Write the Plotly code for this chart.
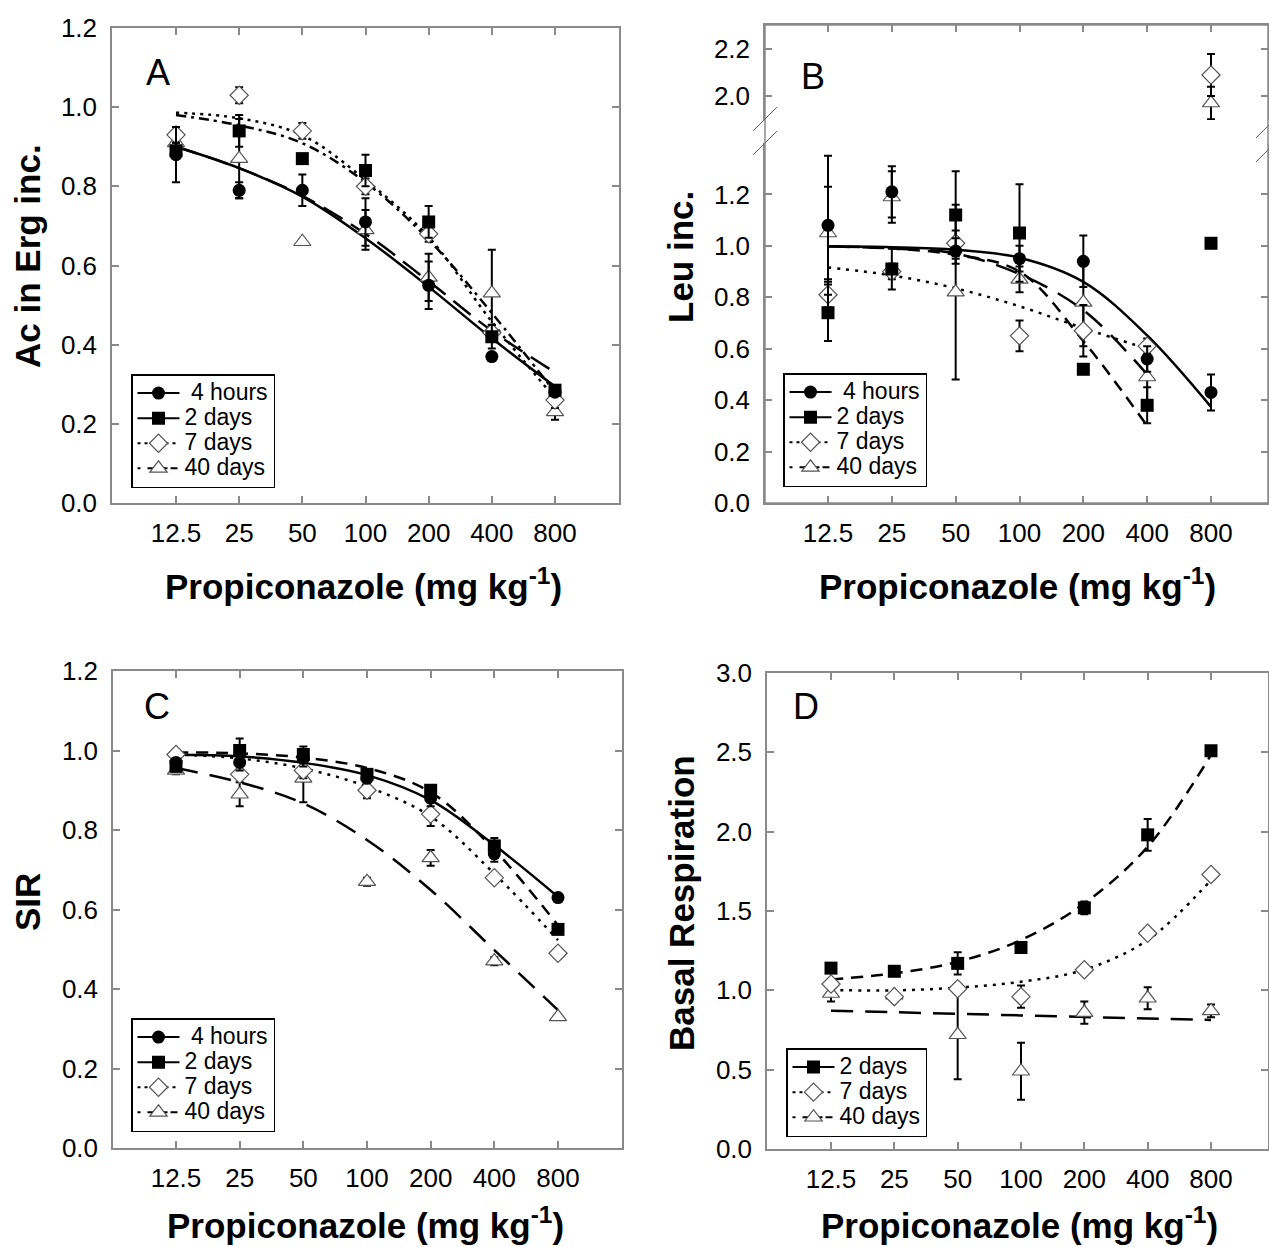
import numpy as np
import plotly.graph_objects as go

W, H = 1269, 1247
FONT = "Liberation Sans, Arial, sans-serif"
GRAY = "#8a8a8a"

# ---------------- data ----------------
doses = [12.5, 25, 50, 100, 200, 400, 800]
dose_labels = ["12.5", "25", "50", "100", "200", "400", "800"]
names = [" 4 hours", "2 days", "7 days", "40 days"]

# Panel A: Ac in Erg inc.
A_4h = [0.88, 0.79, 0.79, 0.71, 0.55, 0.37, 0.28]
A_4h_err = [0.07, 0.02, 0.04, 0.06, 0.06, 0.0, 0.01]
A_2d = [0.89, 0.94, 0.87, 0.84, 0.71, 0.42, 0.285]
A_2d_err = [0.02, 0.04, 0.0, 0.04, 0.04, 0.03, 0.01]
A_7d = [0.93, 1.03, 0.94, 0.80, 0.68, 0.43, 0.26]
A_7d_err = [0.02, 0.02, 0.02, 0.02, 0.02, 0.02, 0.02]
A_40d = [0.91, 0.87, 0.66, 0.69, 0.57, 0.53, 0.23]
A_40d_err = [0.02, 0.10, 0.005, 0.05, 0.06, 0.11, 0.02]
A_fit_4h = [0.90, 0.846, 0.774, 0.669, 0.546, 0.416, 0.294]
A_fit_2d = [0.98, 0.954, 0.909, 0.81, 0.665, 0.48, 0.28]
A_fit_7d = [0.986, 0.972, 0.929, 0.816, 0.672, 0.458, 0.265]
A_fit_40d = [0.90, 0.846, 0.776, 0.68, 0.56, 0.435, 0.33]

# Panel B: Leu inc. (broken axis)
B_4h = [1.08, 1.21, 0.98, 0.95, 0.94, 0.56, 0.43]
B_4h_err = [0.27, 0.10, 0.05, 0.05, 0.10, 0.05, 0.07]
B_2d = [0.74, 0.91, 1.12, 1.05, 0.52, 0.38, 1.01]
B_2d_err = [0.11, 0.08, 0.17, 0.19, 0.0, 0.07, 0.0]
B_7d = [0.81, 0.90, 1.01, 0.65, 0.67, 0.61, 2.09]
B_7d_err = [0.05, 0.03, 0.05, 0.06, 0.10, 0.03, 0.09]
B_40d = [1.05, 1.19, 0.82, 0.87, 0.78, 0.49, 1.97]
B_40d_err = [0.18, 0.10, 0.34, 0.05, 0.17, 0.10, 0.07]
B_fit_4h = [0.998, 0.995, 0.985, 0.954, 0.86, 0.652, 0.374]
B_fit_2d = [0.998, 0.99, 0.965, 0.90, 0.63, 0.30]
B_fit_7d = [0.916, 0.885, 0.835, 0.765, 0.68, 0.60]
B_fit_40d = [0.998, 0.99, 0.97, 0.89, 0.75, 0.50]

# Panel C: SIR
C_4h = [0.97, 0.97, 0.98, 0.93, 0.88, 0.74, 0.63]
C_4h_err = [0.01, 0.02, 0.02, 0.01, 0.02, 0.02, 0.0]
C_2d = [0.96, 1.00, 0.99, 0.94, 0.90, 0.76, 0.55]
C_2d_err = [0.01, 0.03, 0.02, 0.01, 0.01, 0.02, 0.0]
C_7d = [0.99, 0.94, 0.95, 0.90, 0.84, 0.68, 0.49]
C_7d_err = [0.01, 0.01, 0.02, 0.02, 0.03, 0.01, 0.01]
C_40d = [0.95, 0.89, 0.93, 0.67, 0.73, 0.47, 0.33]
C_40d_err = [0.01, 0.03, 0.06, 0.01, 0.02, 0.01, 0.0]
C_fit_4h = [0.989, 0.985, 0.969, 0.938, 0.875, 0.762, 0.632]
C_fit_2d = [0.995, 0.993, 0.982, 0.956, 0.895, 0.75, 0.56]
C_fit_7d = [0.99, 0.98, 0.955, 0.909, 0.834, 0.69, 0.523]
C_fit_40d = [0.956, 0.92, 0.867, 0.775, 0.649, 0.498, 0.347]

# Panel D: Basal Respiration
D_2d = [1.14, 1.12, 1.17, 1.27, 1.52, 1.98, 2.51]
D_2d_err = [0.0, 0.02, 0.07, 0.02, 0.04, 0.10, 0.0]
D_7d = [1.04, 0.96, 1.01, 0.96, 1.13, 1.36, 1.73]
D_7d_err = [0.02, 0.02, 0.03, 0.07, 0.02, 0.03, 0.02]
D_40d = [0.98, 0.97, 0.72, 0.49, 0.86, 0.95, 0.87]
D_40d_err = [0.05, 0.02, 0.28, 0.18, 0.07, 0.07, 0.04]
D_fit_2d = [1.069, 1.107, 1.18, 1.317, 1.548, 1.905, 2.483]
D_fit_7d = [1.002, 1.0, 1.017, 1.054, 1.13, 1.317, 1.695]
D_fit_40d = [0.872, 0.862, 0.852, 0.842, 0.832, 0.822, 0.813]

# ---------------- styles ----------------
MARK = {
    0: dict(symbol="circle", size=13, color="black", line=dict(width=0)),
    1: dict(symbol="square", size=13, color="black", line=dict(width=0)),
    2: dict(symbol="diamond", size=14, color="white", line=dict(width=1.2, color="#555")),
    3: dict(symbol="triangle-up", size=15, color="white", line=dict(width=1.2, color="#555")),
}
LEG_DASH = {0: "solid", 1: "solid", 2: "3px,4px", 3: "3px,7px,20px"}
DASH_A = {0: "solid", 1: "10px,5px,3px,5px", 2: "3px,5px", 3: "22px,10px"}
DASH_BCD = {0: "solid", 1: "12px,8px", 2: "3px,6px", 3: "22px,12px"}


def px_x(p):
    return p / W


def px_y(p):
    return 1 - p / H


def log_range(pl, pr, pf, plast):
    l0, l1 = np.log10(doses[0]), np.log10(doses[-1])
    ppd = (plast - pf) / (l1 - l0)
    return [l0 - (pf - pl) / ppd, l1 + (pr - plast) / ppd]


fig = go.Figure()


def add_fit(xa, ya, vals, dash):
    fig.add_trace(go.Scatter(
        x=doses[:len(vals)], y=vals, mode="lines", xaxis=xa, yaxis=ya,
        line=dict(color="black", width=2.5, dash=dash, shape="spline", smoothing=1.0),
        showlegend=False, hoverinfo="skip"))


def add_pts(xa, ya, vals, err, k, idx=None):
    idx = list(range(len(vals))) if idx is None else idx
    fig.add_trace(go.Scatter(
        x=[doses[i] for i in idx], y=[vals[i] for i in idx], mode="markers",
        xaxis=xa, yaxis=ya, marker=MARK[k], cliponaxis=False,
        error_y=dict(type="data", array=[err[i] for i in idx], visible=True,
                     color="black", thickness=2, width=4),
        showlegend=False))


def add_legend(k, legend):
    fig.add_trace(go.Scatter(
        x=[None], y=[None], mode="lines+markers",
        name='<span style="font-size:23px">%s</span>' % names[k],
        marker=MARK[k], line=dict(color="black", width=2, dash=LEG_DASH[k]),
        legend=legend, xaxis="x", yaxis="y"))


# Panel A
for k, f in enumerate([A_fit_4h, A_fit_2d, A_fit_7d, A_fit_40d]):
    add_fit("x", "y", f, DASH_A[k])
A_sets = [(A_4h, A_4h_err), (A_2d, A_2d_err), (A_7d, A_7d_err), (A_40d, A_40d_err)]
for k in [3, 2, 1, 0]:
    add_pts("x", "y", A_sets[k][0], A_sets[k][1], k)

# Panel B
B_fits = [B_fit_4h, B_fit_2d, B_fit_7d, B_fit_40d]
for k, f in enumerate(B_fits):
    add_fit("x2", "y2", f, DASH_BCD[k])
B_sets = [(B_4h, B_4h_err), (B_2d, B_2d_err), (B_7d, B_7d_err), (B_40d, B_40d_err)]
B_BREAK = 1.5
for k in [3, 2, 1, 0]:
    v, e = B_sets[k]
    low = [i for i in range(len(v)) if v[i] < B_BREAK]
    up = [i for i in range(len(v)) if v[i] >= B_BREAK]
    add_pts("x2", "y2", v, e, k, low)
    if up:
        add_pts("x3", "y3", v, e, k, up)

# Panel C
C_fits = [C_fit_4h, C_fit_2d, C_fit_7d, C_fit_40d]
for k, f in enumerate(C_fits):
    add_fit("x4", "y4", f, DASH_BCD[k])
C_sets = [(C_4h, C_4h_err), (C_2d, C_2d_err), (C_7d, C_7d_err), (C_40d, C_40d_err)]
for k in [3, 2, 1, 0]:
    add_pts("x4", "y4", C_sets[k][0], C_sets[k][1], k)

# Panel D
D_fits = {1: D_fit_2d, 2: D_fit_7d, 3: D_fit_40d}
for k, f in D_fits.items():
    add_fit("x5", "y5", f, DASH_BCD[k])
D_sets = {1: (D_2d, D_2d_err), 2: (D_7d, D_7d_err), 3: (D_40d, D_40d_err)}
for k in [3, 2, 1]:
    add_pts("x5", "y5", D_sets[k][0], D_sets[k][1], k)

# legends
for k in range(4):
    add_legend(k, "legend")
for k in range(4):
    add_legend(k, "legend2")
for k in range(4):
    add_legend(k, "legend3")
for k in [1, 2, 3]:
    add_legend(k, "legend4")

# ---------------- axes ----------------
BASE = dict(showgrid=False, zeroline=False, showline=True, linecolor=GRAY, linewidth=1.5,
            ticks="inside", ticklen=7, tickwidth=1.5, tickcolor=GRAY, automargin=False,
            tickfont=dict(family=FONT, size=26, color="black"))


def xax(pl, pr, pf, plast, anchor, **kw):
    d = dict(BASE, type="log", domain=[px_x(pl), px_x(pr)], range=log_range(pl, pr, pf, plast),
             tickvals=doses, ticktext=dose_labels, anchor=anchor, ticklabelstandoff=6)
    d.update(kw)
    return d


def yax(pt, pb, rng, tickvals, anchor, **kw):
    d = dict(BASE, domain=[px_y(pb), px_y(pt)], range=rng, tickvals=tickvals,
             ticktext=["%.1f" % t for t in tickvals],
             anchor=anchor, mirror="ticks", ticklabelstandoff=8)
    d.update(kw)
    return d


yt12 = [0, 0.2, 0.4, 0.6, 0.8, 1.0, 1.2]
fig.update_layout(
    xaxis=xax(112, 619, 176, 555, "y", mirror="ticks"),
    yaxis=yax(28, 503, [0, 1.2], yt12, "x"),
    xaxis2=xax(765, 1268, 828, 1211, "y2"),
    yaxis2=yax(143, 503, [0, 1.4], yt12, "x2",
               minor=dict(tickvals=[1.4], ticks="inside", ticklen=7, tickwidth=1.5,
                          tickcolor=GRAY, showgrid=False)),
    xaxis3=xax(765, 1268, 828, 1211, "y3", side="top", showticklabels=False, matches="x2"),
    yaxis3=yax(25, 120, [2.0 - 24 / 233.5, 2.2 + 24.3 / 233.5], [2.0, 2.2], "x3"),
    xaxis4=xax(113, 622, 176, 558, "y4", mirror="ticks"),
    yaxis4=yax(671, 1148, [0, 1.2], yt12, "x4"),
    xaxis5=xax(767, 1268, 831, 1211, "y5", mirror="ticks"),
    yaxis5=yax(673, 1149, [0, 3.0], [0, 0.5, 1.0, 1.5, 2.0, 2.5, 3.0], "x5"),
)

# ---------------- legends ----------------
LEG = dict(font=dict(family=FONT, size=17, color="black"), bgcolor="white",
           bordercolor="black", borderwidth=1.5, xanchor="left", yanchor="top",
           tracegroupgap=0, itemsizing="trace", itemwidth=42)
fig.update_layout(
    legend=dict(LEG, x=px_x(131), y=px_y(374)),
    legend2=dict(LEG, x=px_x(783), y=px_y(373)),
    legend3=dict(LEG, x=px_x(131), y=px_y(1018)),
    legend4=dict(LEG, x=px_x(786), y=px_y(1048)),
)

# ---------------- annotations ----------------
ann = []
TITLE_FONT = dict(family=FONT, size=35, color="black")
xt = "<b>Propiconazole (mg kg<sup>-1</sup>)</b>"
for cx, cy in [(363, 584), (1017, 584), (365, 1223), (1019, 1223)]:
    ann.append(dict(text=xt, x=px_x(cx), y=px_y(cy), xref="paper", yref="paper",
                    showarrow=False, font=TITLE_FONT, xanchor="center", yanchor="middle"))
for txt, cx, cy in [("Ac in Erg inc.", 27, 256), ("Leu inc.", 680, 257),
                    ("SIR", 27, 902), ("Basal Respiration", 681, 903)]:
    ann.append(dict(text="<b>%s</b>" % txt, x=px_x(cx), y=px_y(cy), xref="paper", yref="paper",
                    showarrow=False, font=dict(family=FONT, size=35, color="black"), textangle=-90,
                    xanchor="center", yanchor="middle"))
for txt, cx, cy in [("A", 158, 73), ("B", 813, 76), ("C", 157, 706), ("D", 806, 706)]:
    ann.append(dict(text=txt, x=px_x(cx), y=px_y(cy), xref="paper", yref="paper",
                    showarrow=False, font=dict(family=FONT, size=36, color="black"),
                    xanchor="center", yanchor="middle"))

# ---------------- shapes: panel B frame and axis break ----------------
shapes = [dict(type="rect", xref="paper", yref="paper", x0=px_x(765), x1=px_x(1268),
               y0=px_y(503), y1=px_y(25), line=dict(color=GRAY, width=1.5), layer="below")]
for (x0, y0, x1, y1) in [(753, 131, 777, 107), (753, 155, 777, 131),
                         (1256, 138, 1280, 114), (1256, 162, 1280, 138)]:
    shapes.append(dict(type="line", xref="paper", yref="paper", x0=px_x(x0), y0=px_y(y0),
                       x1=px_x(x1), y1=px_y(y1), line=dict(color="#666", width=1)))

fig.update_layout(
    width=W, height=H, margin=dict(l=0, r=0, t=0, b=0, pad=0, autoexpand=False),
    paper_bgcolor="white", plot_bgcolor="white",
    annotations=ann, shapes=shapes, font=dict(family=FONT, color="black"),
)

fig.write_html("out.html", config={"displayModeBar": False},
               post_script="document.body.style.margin='0px';")
